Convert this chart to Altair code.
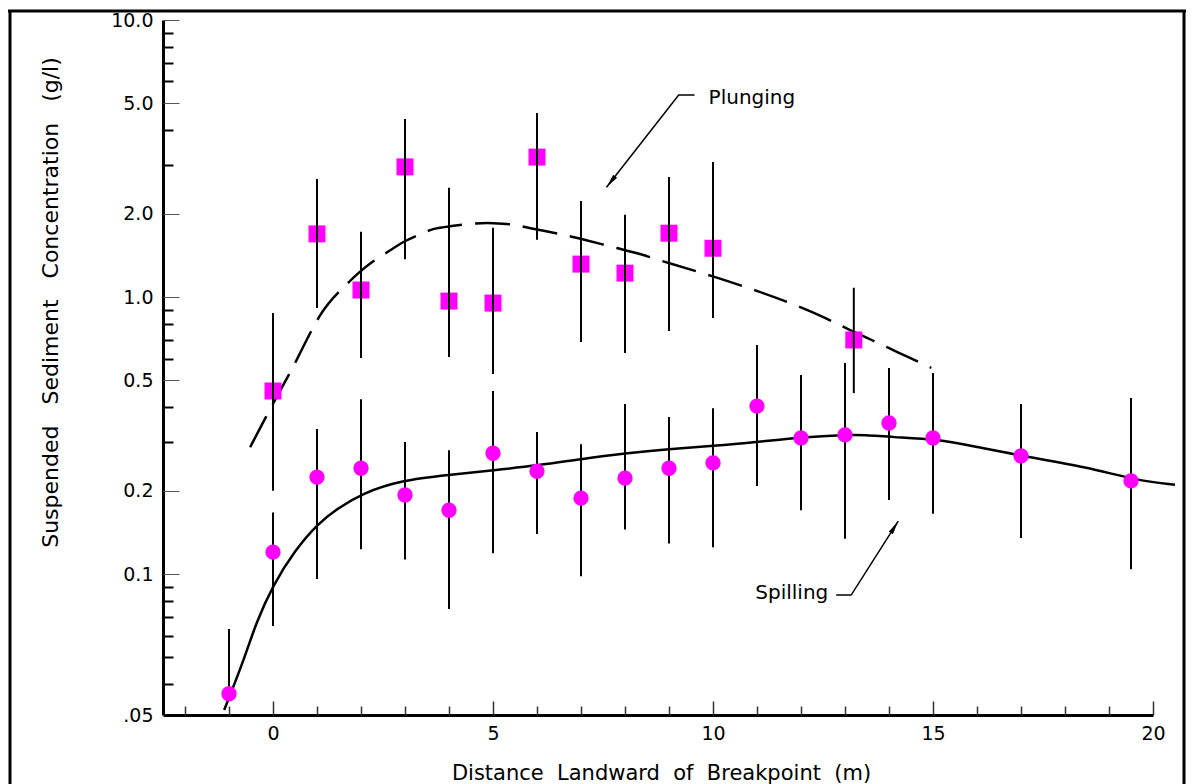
import altair as alt
import pandas as pd

# ---------------- data ----------------
# Plunging breakers (squares): x, concentration, error bar low / high
p_x = [0, 1, 2, 3, 4, 5, 6, 7, 8, 9, 10, 13.2]
p_val = [0.458, 1.69, 1.06, 2.95, 0.967, 0.951, 3.20, 1.315, 1.22, 1.70, 1.50, 0.70]
p_lo = [0.200, 0.913, 0.602, 1.37, 0.607, 0.527, 1.61, 0.688, 0.628, 0.754, 0.84, 0.45]
p_hi = [0.876, 2.67, 1.72, 4.39, 2.48, 1.78, 4.62, 2.22, 1.98, 2.71, 3.07, 1.08]

# Spilling breakers (circles)
s_x = [-1, 0, 1, 2, 3, 4, 5, 6, 7, 8, 9, 10, 11, 12, 13, 14, 15, 17, 19.5]
s_val = [0.037, 0.12, 0.224, 0.241, 0.193, 0.17, 0.273, 0.235, 0.188, 0.222, 0.241,
         0.252, 0.404, 0.31, 0.318, 0.351, 0.31, 0.267, 0.217]
s_lo = [0.035, 0.065, 0.096, 0.123, 0.113, 0.0748, 0.119, 0.1395, 0.0983, 0.145, 0.129,
        0.125, 0.208, 0.17, 0.134, 0.185, 0.165, 0.135, 0.104]
s_hi = [0.0633, 0.167, 0.334, 0.428, 0.30, 0.28, 0.458, 0.326, 0.294, 0.411, 0.369,
        0.397, 0.671, 0.523, 0.578, 0.555, 0.532, 0.411, 0.432]

# Fitted curves
pc_x = [-0.52, -0.09, 0.23, 0.52, 1.09, 1.54, 1.93, 2.27, 2.61, 2.97, 3.31, 3.65, 4.04,
        4.56, 5.02, 5.40, 5.81, 6.65, 7.01, 7.90, 8.29, 8.97, 10.01, 11.08, 11.83, 12.62,
        12.96, 13.76, 14.14, 14.96]
pc_y = [0.287, 0.388, 0.481, 0.582, 0.897, 1.06, 1.22, 1.349, 1.454, 1.59, 1.674, 1.775,
        1.80, 1.85, 1.85, 1.84, 1.775, 1.674, 1.62, 1.49, 1.441, 1.327, 1.19, 1.042, 0.943,
        0.833, 0.779, 0.682, 0.638, 0.555]
sc_x = [-1.11, -0.66, -0.39, 0.0, 0.5, 1.02, 1.45, 2.04, 2.91, 4.0, 5.02,
        6.04, 6.99, 8.01, 8.99, 10.01, 11.03, 12.05, 13.0, 13.46, 14.05, 15.1, 15.98,
        17.03, 18.52, 19.61, 20.5]
sc_y = [0.0323, 0.049, 0.0665, 0.0913, 0.122, 0.152, 0.172, 0.196, 0.218,
        0.228, 0.237, 0.247, 0.26, 0.273, 0.283, 0.29, 0.30, 0.312, 0.318, 0.318, 0.312,
        0.307, 0.288, 0.267, 0.243, 0.218, 0.21]

# Annotations
lab_text = ["Plunging", "Spilling"]
lab_x = [9.90, 12.62]
lab_y = [5.22, 0.0854]
lab_align = ["left", "right"]
lead_g = ["p", "p", "p", "s", "s", "s"]
lead_x = [9.58, 9.22, 7.58, 12.80, 13.14, 14.21]
lead_y = [5.36, 5.36, 2.49, 0.084, 0.084, 0.1553]
arr_x = [7.58, 14.21]
arr_y = [2.49, 0.1553]
arr_ang = [218, 32]

# Axes
Y_LO = 0.031
X_DOM = [-2.5, 20]
x_major = [0, 5, 10, 15, 20]
x_all = list(range(-2, 21))
y_labels = [Y_LO, 0.1, 0.2, 0.5, 1, 2, 5, 10]
y_major = [0.1, 0.2, 0.5, 1, 2, 5, 10]
y_minor = [0.04, 0.05, 0.06, 0.07, 0.08, 0.09, 0.3, 0.4, 0.6, 0.7, 0.8, 0.9,
           3, 4, 6, 7, 8, 9]

FONT = "DejaVu Sans"
W, H = 990, 695
MAG = "#ff00ff"
SP = " \u00a0"

xs = alt.Scale(domain=X_DOM, nice=False, zero=False)
ys = alt.Scale(type="log", domain=[Y_LO, 10], nice=False)

x_axis = alt.Axis(
    values=x_major, format="d", ticks=False, grid=False,
    domainColor="black", domainWidth=3,
    labelFont=FONT, labelFontSize=19, labelColor="black", labelPadding=9,
    labelFlush=False,
    title=SP.join(["Distance", "Landward", "of", "Breakpoint", "(m)"]),
    titleFont=FONT, titleFontSize=21, titleFontWeight="normal", titleColor="black",
    titleX=498, titleY=58, titleAlign="center", titleBaseline="middle",
)
y_axis = alt.Axis(
    values=y_labels,
    labelExpr="datum.value < 0.05 ? '.05' : format(datum.value, '.1f')",
    ticks=False, grid=False, domainColor="black", domainWidth=3,
    labelFont=FONT, labelFontSize=19, labelColor="black", labelPadding=10,
    labelFlush=False, labelOverlap=False,
    title=(SP + "\u00a0").join(["Suspended", "Sediment", "Concentration", "(g/l)"]),
    titleFont=FONT, titleFontSize=22, titleFontWeight="normal", titleColor="black",
    titleX=-113, titleY=282, titleAngle=270, titleAlign="center", titleBaseline="middle",
)

X = lambda f="x": alt.X(f"{f}:Q", scale=xs, axis=x_axis)
Y = lambda f="y": alt.Y(f"{f}:Q", scale=ys, axis=y_axis)

pdf = pd.DataFrame({"x": p_x, "y": p_val, "lo": p_lo, "hi": p_hi})
sdf = pd.DataFrame({"x": s_x, "y": s_val, "lo": s_lo, "hi": s_hi})
pcdf = pd.DataFrame({"x": pc_x, "y": pc_y})
scdf = pd.DataFrame({"x": sc_x, "y": sc_y})
labdf = pd.DataFrame({"x": lab_x, "y": lab_y, "t": lab_text, "a": lab_align})
leaddf = pd.DataFrame({"x": lead_x, "y": lead_y, "g": lead_g})
arrdf = pd.DataFrame({"x": arr_x, "y": arr_y, "a": arr_ang})
one = pd.DataFrame({"x": [0], "y": [1]})

plunge_line = alt.Chart(pcdf).mark_line(
    color="black", strokeWidth=2.5, strokeDash=[35, 13], interpolate="basis"
).encode(x=X(), y=Y())
spill_line = alt.Chart(scdf).mark_line(
    color="black", strokeWidth=2.5, interpolate="basis"
).encode(x=X(), y=Y())

squares = alt.Chart(pdf).mark_square(size=289, color=MAG, opacity=1).encode(x=X(), y=Y())
p_bars = alt.Chart(pdf).mark_rule(color="black", strokeWidth=2).encode(
    x=X(), y=Y("lo"), y2="hi:Q")
s_bars = alt.Chart(sdf).mark_rule(color="black", strokeWidth=2).encode(
    x=X(), y=Y("lo"), y2="hi:Q")
circles = alt.Chart(sdf).mark_circle(size=235, color=MAG, opacity=1).encode(x=X(), y=Y())

labels_l = alt.Chart(labdf[labdf.a == "left"]).mark_text(
    font=FONT, fontSize=20, align="left", baseline="middle", color="black"
).encode(x=X(), y=Y(), text="t:N")
labels_r = alt.Chart(labdf[labdf.a == "right"]).mark_text(
    font=FONT, fontSize=20, align="right", baseline="middle", color="black"
).encode(x=X(), y=Y(), text="t:N")
leaders = alt.Chart(leaddf).mark_line(color="black", strokeWidth=1.5).encode(
    x=X(), y=Y(), detail="g:N")
arrows = alt.Chart(arrdf).mark_point(
    shape="M0,0L0.35,2L-0.35,2Z", filled=True, size=196, color="black", opacity=1
).encode(x=X(), y=Y(), angle=alt.Angle("a:Q", scale=None))

frame_top = alt.Chart(one).mark_rule(color="black", strokeWidth=3).encode(
    x=alt.value(-155), x2=alt.value(1023), y=alt.value(-9))
frame_left = alt.Chart(one).mark_rule(color="black", strokeWidth=3).encode(
    x=alt.value(-153), y=alt.value(-10), y2=alt.value(770))
frame_right = alt.Chart(one).mark_rule(color="black", strokeWidth=3).encode(
    x=alt.value(1021), y=alt.value(-10), y2=alt.value(770))

main = alt.layer(
    plunge_line, spill_line, squares, p_bars, s_bars, circles,
    leaders, arrows, labels_l, labels_r, frame_top, frame_left, frame_right,
)

MAJ_TEST = "indexof([0.1,0.2,0.5,1,2,5,10], datum.value) >= 0"
x_tick_axis = alt.Axis(
    orient="top", offset=-H, values=x_all, labels=False, domain=False, grid=False,
    title="", tickColor="#333333", tickWidth=1.5,
    tickSize={"condition": {"test": "datum.value % 5 === 0", "value": 14}, "value": 9},
)
y_tick_axis = alt.Axis(
    orient="right", offset=-W, values=y_major + y_minor, labels=False, domain=False,
    grid=False, title="",
    tickColor={"condition": {"test": MAJ_TEST, "value": "#555555"}, "value": "black"},
    tickWidth={"condition": {"test": MAJ_TEST, "value": 1}, "value": 2},
    tickSize={"condition": {"test": MAJ_TEST, "value": 16}, "value": 10},
)
ticks = alt.Chart(one).mark_point(opacity=0).encode(
    x=alt.X("x:Q", scale=xs, axis=x_tick_axis),
    y=alt.Y("y:Q", scale=ys, axis=y_tick_axis),
)

chart = alt.layer(main, ticks).resolve_scale(
    x="independent", y="independent"
).properties(
    width=W, height=H, autosize="none",
    padding={"left": 155, "top": 12, "right": 33, "bottom": 69},
    background="white",
).configure_view(stroke="transparent")

chart.save("out.html", embed_options={"renderer": "svg", "actions": False})
